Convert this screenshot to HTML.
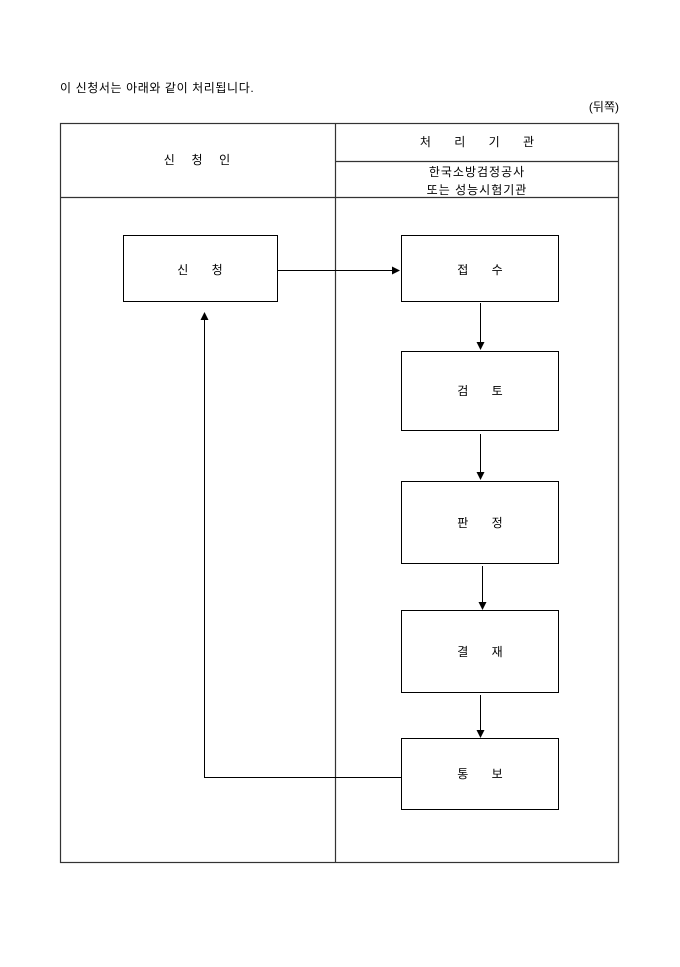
<!DOCTYPE html>
<html><head><meta charset="utf-8"><style>
html,body{margin:0;padding:0;background:#fff;}
svg text{font-family:"Liberation Sans","Noto Sans CJK KR","NanumGothic",sans-serif;font-size:12px;fill:#000;}
</style></head><body>
<svg width="680" height="962" viewBox="0 0 680 962" xmlns="http://www.w3.org/2000/svg">
<defs><marker id="a" markerWidth="8" markerHeight="8" refX="7" refY="4" orient="auto" markerUnits="userSpaceOnUse"><path d="M0,0 L8,4 L0,8 z" fill="#000"/></marker></defs>
<text x="60" y="92" letter-spacing="0.6">이 신청서는 아래와 같이 처리됩니다.</text>
<text x="619" y="111" text-anchor="end">(뒤쪽)</text>
<g stroke="#333" stroke-width="1.2" fill="none">
<rect x="60.5" y="123.5" width="558" height="739"/>
<line x1="335.5" y1="123" x2="335.5" y2="863"/>
<line x1="60" y1="197.5" x2="619" y2="197.5"/>
<line x1="335" y1="161.5" x2="619" y2="161.5"/>
</g>
<text x="197" y="164" text-anchor="middle" xml:space="preserve">신     청     인</text>
<text x="477" y="146" text-anchor="middle" xml:space="preserve">처       리       기       관</text>
<text x="477" y="176" text-anchor="middle" letter-spacing="1">한국소방검정공사</text>
<text x="477" y="194" text-anchor="middle" letter-spacing="1">또는 성능시험기관</text>
<g stroke="#000" stroke-width="1" fill="none">
<rect x="123.5" y="235.5" width="154" height="66"/>
<rect x="401.5" y="235.5" width="157" height="66"/>
<rect x="401.5" y="351.5" width="157" height="79"/>
<rect x="401.5" y="481.5" width="157" height="82"/>
<rect x="401.5" y="610.5" width="157" height="82"/>
<rect x="401.5" y="738.5" width="157" height="71"/>
<line x1="277" y1="270.5" x2="399" y2="270.5" marker-end="url(#a)"/>
<line x1="480.5" y1="303" x2="480.5" y2="349" marker-end="url(#a)"/>
<line x1="480.5" y1="434" x2="480.5" y2="479" marker-end="url(#a)"/>
<line x1="482.5" y1="566" x2="482.5" y2="609" marker-end="url(#a)"/>
<line x1="480.5" y1="695" x2="480.5" y2="737" marker-end="url(#a)"/>
<polyline points="401,777.5 204.5,777.5 204.5,313" marker-end="url(#a)"/>
</g>
<text x="200" y="274" text-anchor="middle" xml:space="preserve">신       청</text>
<text x="480" y="274" text-anchor="middle" xml:space="preserve">접       수</text>
<text x="480" y="395" text-anchor="middle" xml:space="preserve">검       토</text>
<text x="480" y="527" text-anchor="middle" xml:space="preserve">판       정</text>
<text x="480" y="656" text-anchor="middle" xml:space="preserve">결       재</text>
<text x="480" y="778" text-anchor="middle" xml:space="preserve">통       보</text>
</svg>
</body></html>
